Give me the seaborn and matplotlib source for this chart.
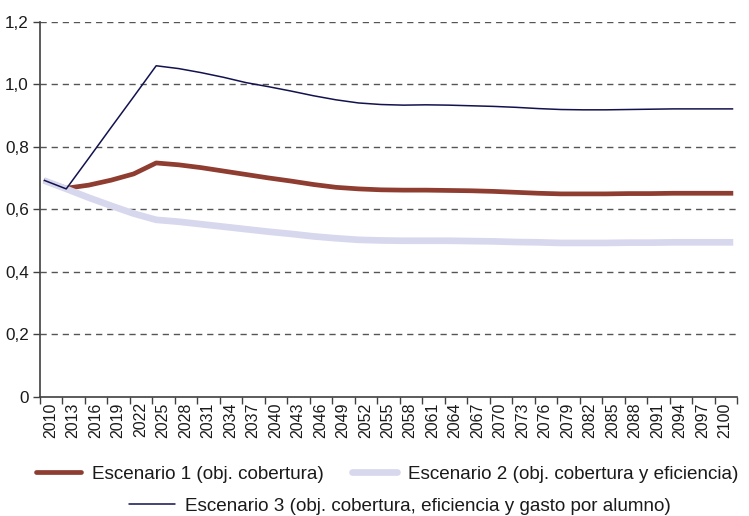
import matplotlib
matplotlib.use("Agg")
import matplotlib.pyplot as plt
import seaborn as sns
import pandas as pd
from matplotlib.lines import Line2D

# ---------------- data ----------------
years = [2010, 2013, 2016, 2019, 2022, 2025, 2028, 2031, 2034, 2037, 2040,
         2043, 2046, 2049, 2052, 2055, 2058, 2061, 2064, 2067, 2070, 2073,
         2076, 2079, 2082, 2085, 2088, 2091, 2094, 2097, 2100, 2102]

esc1 = [0.692, 0.667, 0.677, 0.693, 0.713, 0.748, 0.742, 0.733, 0.722, 0.711,
        0.700, 0.690, 0.679, 0.670, 0.665, 0.662, 0.661, 0.661, 0.660, 0.659,
        0.657, 0.654, 0.651, 0.649, 0.649, 0.649, 0.650, 0.650, 0.651, 0.651,
        0.651, 0.651]

esc2 = [0.692, 0.665, 0.637, 0.611, 0.586, 0.566, 0.560, 0.552, 0.544, 0.536,
        0.528, 0.521, 0.513, 0.507, 0.502, 0.500, 0.499, 0.499, 0.499, 0.498,
        0.497, 0.495, 0.494, 0.492, 0.492, 0.492, 0.493, 0.493, 0.494, 0.494,
        0.494, 0.494]

esc3 = [0.693, 0.665, 0.763, 0.862, 0.960, 1.059, 1.050, 1.037, 1.022, 1.005,
        0.992, 0.978, 0.963, 0.950, 0.940, 0.935, 0.933, 0.934, 0.933, 0.931,
        0.929, 0.926, 0.922, 0.919, 0.918, 0.918, 0.919, 0.920, 0.921, 0.921,
        0.921, 0.921]

series_names = ["Escenario 1 (obj. cobertura)",
                "Escenario 2 (obj. cobertura y eficiencia)",
                "Escenario 3 (obj. cobertura, eficiencia y gasto por alumno)"]

x_tick_labels = [str(y) for y in range(2010, 2101, 3)]
y_ticks = [0, 0.2, 0.4, 0.6, 0.8, 1.0, 1.2]
y_tick_labels = ["0", "0,2", "0,4", "0,6", "0,8", "1,0", "1,2"]

# ---------------- styling ----------------
sns.set_theme(style="white")
plt.rcParams["font.family"] = ["Liberation Sans", "DejaVu Sans"]

colors = ["#8e3d30", "#d7d7ee", "#12124f"]
widths = [3.4, 4.8, 1.1]

W, H = 749, 516
fig = plt.figure(figsize=(W / 100, H / 100), dpi=100)
ax = fig.add_axes([40 / W, 1 - 396.7 / H, (737 - 40) / W, (396.7 - 21.7) / H])

df = pd.DataFrame({"year": years, series_names[0]: esc1,
                   series_names[1]: esc2, series_names[2]: esc3})

for name, c, lw in zip(series_names, colors, widths):
    sns.lineplot(data=df, x="year", y=name, ax=ax, color=c, linewidth=lw,
                 legend=False, solid_capstyle="butt")

ax.set_xlim(2009.5, 2102.5)
ax.set_ylim(0, 1.2)
ax.set_xlabel("")
ax.set_ylabel("")

# y axis
ax.set_yticks(y_ticks)
ax.set_yticklabels(y_tick_labels, fontsize=12.3, color="#1a1a1a")
for y in y_ticks[1:]:
    ax.axhline(y, color="#555555", lw=1.0, ls=(0, (4.5, 3.5)), zorder=0)

# x axis: tick marks at group boundaries, labels centred in groups
ax.set_xticks([2009.5 + 3 * k for k in range(32)])
ax.set_xticklabels([])
ax.set_xticks([2010.9 + 3 * k for k in range(len(x_tick_labels))], minor=True)
ax.set_xticklabels(x_tick_labels, minor=True, rotation=90, fontsize=11.5,
                   color="#1a1a1a")
ax.tick_params(axis="x", which="major", length=5, width=1.0, color="#404040",
               direction="out", bottom=True)
ax.tick_params(axis="x", which="minor", length=0, pad=4, bottom=True)
ax.tick_params(axis="y", length=5, width=1.0, color="#404040",
               direction="out", left=True, pad=3)

for s in ["top", "right"]:
    ax.spines[s].set_visible(False)
for s in ["left", "bottom"]:
    ax.spines[s].set_color("#404040")
    ax.spines[s].set_linewidth(1.2)

# legend: two centred rows
fs = 13.6
h = [Line2D([], [], color=c, lw=lw) for c, lw in zip(colors, widths)]
leg1 = fig.legend(h[:2], series_names[:2], loc="center",
                  bbox_to_anchor=(387 / W, 1 - 474 / H), ncol=2, frameon=False,
                  fontsize=fs, handlelength=2.4, handletextpad=0.55,
                  columnspacing=1.5, borderpad=0, borderaxespad=0)
leg2 = fig.legend(h[2:], series_names[2:], loc="center",
                  bbox_to_anchor=(400 / W, 1 - 506 / H), ncol=1, frameon=False,
                  fontsize=fs, handlelength=2.4, handletextpad=0.55,
                  borderpad=0, borderaxespad=0)
for leg in (leg1, leg2):
    for t in leg.get_texts():
        t.set_color("#1a1a1a")

fig.savefig("out.png", dpi=100)
